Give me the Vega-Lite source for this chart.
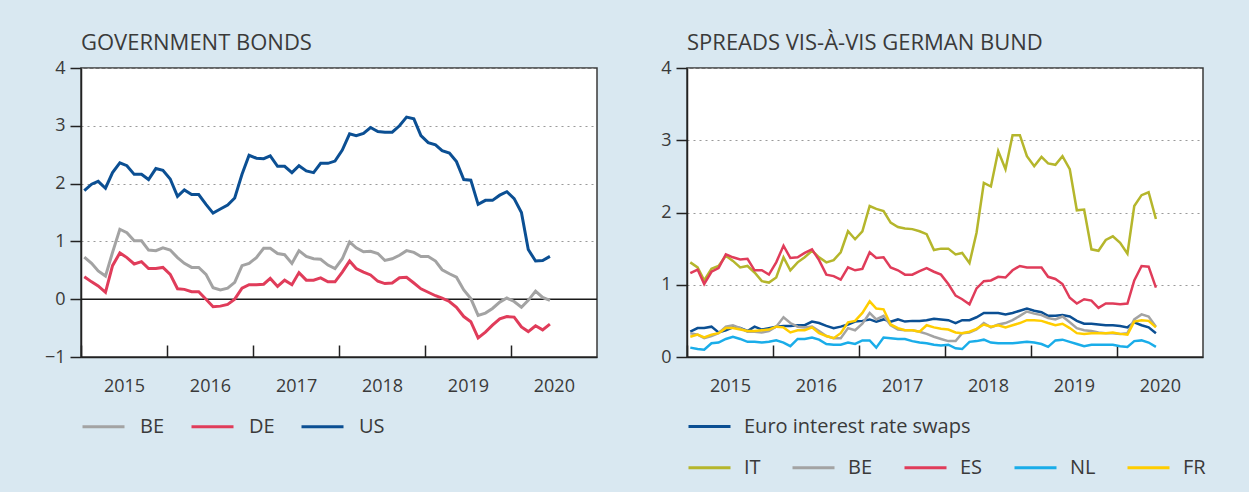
{
"$schema": "https://vega.github.io/schema/vega-lite/v6.json",
"background": "#d9e8f1",
"padding": {"left": 43, "top": 31, "right": 50, "bottom": 13},
"spacing": 60,
"config": {
  "font": "Open Sans",
  "view": {"stroke": "#3a3a3a", "strokeWidth": 1.5, "fill": "white"},
  "axis": {"labelFont": "Open Sans", "labelFontSize": 18, "labelColor": "#3a3a3a", "domainColor": "#222222", "domainWidth": 1.5, "tickColor": "#222222", "tickWidth": 1.5},
  "legend": {"labelFont": "Open Sans", "labelFontSize": 20, "labelColor": "#3a3a3a", "labelLimit": 400},
  "title": {"font": "Open Sans", "fontSize": 22, "fontWeight": "normal", "color": "#3a3a3a", "anchor": "start", "frame": "group", "offset": 0}
},
"datasets": {
"bonds": [
{"d":"2015-01-15","s":"BE","v":0.73},{"d":"2015-02-15","s":"BE","v":0.62},{"d":"2015-03-15","s":"BE","v":0.49},{"d":"2015-04-15","s":"BE","v":0.40},{"d":"2015-05-15","s":"BE","v":0.81},{"d":"2015-06-15","s":"BE","v":1.21},{"d":"2015-07-15","s":"BE","v":1.15},{"d":"2015-08-15","s":"BE","v":1.01},{"d":"2015-09-15","s":"BE","v":1.01},{"d":"2015-10-15","s":"BE","v":0.85},{"d":"2015-11-15","s":"BE","v":0.84},{"d":"2015-12-15","s":"BE","v":0.89},
{"d":"2016-01-15","s":"BE","v":0.85},{"d":"2016-02-15","s":"BE","v":0.72},{"d":"2016-03-15","s":"BE","v":0.62},{"d":"2016-04-15","s":"BE","v":0.55},{"d":"2016-05-15","s":"BE","v":0.55},{"d":"2016-06-15","s":"BE","v":0.43},{"d":"2016-07-15","s":"BE","v":0.20},{"d":"2016-08-15","s":"BE","v":0.16},{"d":"2016-09-15","s":"BE","v":0.19},{"d":"2016-10-15","s":"BE","v":0.29},{"d":"2016-11-15","s":"BE","v":0.58},{"d":"2016-12-15","s":"BE","v":0.62},
{"d":"2017-01-15","s":"BE","v":0.72},{"d":"2017-02-15","s":"BE","v":0.88},{"d":"2017-03-15","s":"BE","v":0.88},{"d":"2017-04-15","s":"BE","v":0.79},{"d":"2017-05-15","s":"BE","v":0.77},{"d":"2017-06-15","s":"BE","v":0.62},{"d":"2017-07-15","s":"BE","v":0.84},{"d":"2017-08-15","s":"BE","v":0.74},{"d":"2017-09-15","s":"BE","v":0.70},{"d":"2017-10-15","s":"BE","v":0.69},{"d":"2017-11-15","s":"BE","v":0.59},{"d":"2017-12-15","s":"BE","v":0.53},
{"d":"2018-01-15","s":"BE","v":0.70},{"d":"2018-02-15","s":"BE","v":0.99},{"d":"2018-03-15","s":"BE","v":0.89},{"d":"2018-04-15","s":"BE","v":0.82},{"d":"2018-05-15","s":"BE","v":0.83},{"d":"2018-06-15","s":"BE","v":0.79},{"d":"2018-07-15","s":"BE","v":0.67},{"d":"2018-08-15","s":"BE","v":0.70},{"d":"2018-09-15","s":"BE","v":0.76},{"d":"2018-10-15","s":"BE","v":0.84},{"d":"2018-11-15","s":"BE","v":0.81},{"d":"2018-12-15","s":"BE","v":0.74},
{"d":"2019-01-15","s":"BE","v":0.74},{"d":"2019-02-15","s":"BE","v":0.66},{"d":"2019-03-15","s":"BE","v":0.51},{"d":"2019-04-15","s":"BE","v":0.44},{"d":"2019-05-15","s":"BE","v":0.38},{"d":"2019-06-15","s":"BE","v":0.16},{"d":"2019-07-15","s":"BE","v":0.01},{"d":"2019-08-15","s":"BE","v":-0.28},{"d":"2019-09-15","s":"BE","v":-0.24},{"d":"2019-10-15","s":"BE","v":-0.16},{"d":"2019-11-15","s":"BE","v":-0.05},{"d":"2019-12-15","s":"BE","v":0.02},
{"d":"2020-01-15","s":"BE","v":-0.04},{"d":"2020-02-15","s":"BE","v":-0.14},{"d":"2020-03-15","s":"BE","v":-0.02},{"d":"2020-04-15","s":"BE","v":0.14},{"d":"2020-05-15","s":"BE","v":0.03},{"d":"2020-06-15","s":"BE","v":-0.02},
{"d":"2015-01-15","s":"DE","v":0.39},{"d":"2015-02-15","s":"DE","v":0.30},{"d":"2015-03-15","s":"DE","v":0.23},{"d":"2015-04-15","s":"DE","v":0.12},{"d":"2015-05-15","s":"DE","v":0.58},{"d":"2015-06-15","s":"DE","v":0.80},{"d":"2015-07-15","s":"DE","v":0.72},{"d":"2015-08-15","s":"DE","v":0.61},{"d":"2015-09-15","s":"DE","v":0.65},{"d":"2015-10-15","s":"DE","v":0.53},{"d":"2015-11-15","s":"DE","v":0.53},{"d":"2015-12-15","s":"DE","v":0.55},
{"d":"2016-01-15","s":"DE","v":0.43},{"d":"2016-02-15","s":"DE","v":0.18},{"d":"2016-03-15","s":"DE","v":0.17},{"d":"2016-04-15","s":"DE","v":0.13},{"d":"2016-05-15","s":"DE","v":0.13},{"d":"2016-06-15","s":"DE","v":0.00},{"d":"2016-07-15","s":"DE","v":-0.13},{"d":"2016-08-15","s":"DE","v":-0.12},{"d":"2016-09-15","s":"DE","v":-0.09},{"d":"2016-10-15","s":"DE","v":0.00},{"d":"2016-11-15","s":"DE","v":0.19},{"d":"2016-12-15","s":"DE","v":0.25},
{"d":"2017-01-15","s":"DE","v":0.25},{"d":"2017-02-15","s":"DE","v":0.26},{"d":"2017-03-15","s":"DE","v":0.36},{"d":"2017-04-15","s":"DE","v":0.22},{"d":"2017-05-15","s":"DE","v":0.33},{"d":"2017-06-15","s":"DE","v":0.25},{"d":"2017-07-15","s":"DE","v":0.46},{"d":"2017-08-15","s":"DE","v":0.33},{"d":"2017-09-15","s":"DE","v":0.33},{"d":"2017-10-15","s":"DE","v":0.37},{"d":"2017-11-15","s":"DE","v":0.30},{"d":"2017-12-15","s":"DE","v":0.30},
{"d":"2018-01-15","s":"DE","v":0.47},{"d":"2018-02-15","s":"DE","v":0.66},{"d":"2018-03-15","s":"DE","v":0.53},{"d":"2018-04-15","s":"DE","v":0.47},{"d":"2018-05-15","s":"DE","v":0.42},{"d":"2018-06-15","s":"DE","v":0.31},{"d":"2018-07-15","s":"DE","v":0.27},{"d":"2018-08-15","s":"DE","v":0.28},{"d":"2018-09-15","s":"DE","v":0.37},{"d":"2018-10-15","s":"DE","v":0.38},{"d":"2018-11-15","s":"DE","v":0.28},{"d":"2018-12-15","s":"DE","v":0.18},
{"d":"2019-01-15","s":"DE","v":0.12},{"d":"2019-02-15","s":"DE","v":0.06},{"d":"2019-03-15","s":"DE","v":0.02},{"d":"2019-04-15","s":"DE","v":-0.04},{"d":"2019-05-15","s":"DE","v":-0.14},{"d":"2019-06-15","s":"DE","v":-0.30},{"d":"2019-07-15","s":"DE","v":-0.39},{"d":"2019-08-15","s":"DE","v":-0.67},{"d":"2019-09-15","s":"DE","v":-0.57},{"d":"2019-10-15","s":"DE","v":-0.45},{"d":"2019-11-15","s":"DE","v":-0.34},{"d":"2019-12-15","s":"DE","v":-0.30},
{"d":"2020-01-15","s":"DE","v":-0.31},{"d":"2020-02-15","s":"DE","v":-0.48},{"d":"2020-03-15","s":"DE","v":-0.56},{"d":"2020-04-15","s":"DE","v":-0.46},{"d":"2020-05-15","s":"DE","v":-0.53},{"d":"2020-06-15","s":"DE","v":-0.43},
{"d":"2015-01-15","s":"US","v":1.88},{"d":"2015-02-15","s":"US","v":1.99},{"d":"2015-03-15","s":"US","v":2.04},{"d":"2015-04-15","s":"US","v":1.92},{"d":"2015-05-15","s":"US","v":2.19},{"d":"2015-06-15","s":"US","v":2.36},{"d":"2015-07-15","s":"US","v":2.31},{"d":"2015-08-15","s":"US","v":2.16},{"d":"2015-09-15","s":"US","v":2.16},{"d":"2015-10-15","s":"US","v":2.07},{"d":"2015-11-15","s":"US","v":2.26},{"d":"2015-12-15","s":"US","v":2.23},
{"d":"2016-01-15","s":"US","v":2.08},{"d":"2016-02-15","s":"US","v":1.78},{"d":"2016-03-15","s":"US","v":1.89},{"d":"2016-04-15","s":"US","v":1.81},{"d":"2016-05-15","s":"US","v":1.81},{"d":"2016-06-15","s":"US","v":1.64},{"d":"2016-07-15","s":"US","v":1.49},{"d":"2016-08-15","s":"US","v":1.56},{"d":"2016-09-15","s":"US","v":1.63},{"d":"2016-10-15","s":"US","v":1.75},{"d":"2016-11-15","s":"US","v":2.16},{"d":"2016-12-15","s":"US","v":2.49},
{"d":"2017-01-15","s":"US","v":2.44},{"d":"2017-02-15","s":"US","v":2.43},{"d":"2017-03-15","s":"US","v":2.48},{"d":"2017-04-15","s":"US","v":2.30},{"d":"2017-05-15","s":"US","v":2.30},{"d":"2017-06-15","s":"US","v":2.19},{"d":"2017-07-15","s":"US","v":2.31},{"d":"2017-08-15","s":"US","v":2.22},{"d":"2017-09-15","s":"US","v":2.19},{"d":"2017-10-15","s":"US","v":2.35},{"d":"2017-11-15","s":"US","v":2.35},{"d":"2017-12-15","s":"US","v":2.39},
{"d":"2018-01-15","s":"US","v":2.58},{"d":"2018-02-15","s":"US","v":2.86},{"d":"2018-03-15","s":"US","v":2.83},{"d":"2018-04-15","s":"US","v":2.87},{"d":"2018-05-15","s":"US","v":2.97},{"d":"2018-06-15","s":"US","v":2.90},{"d":"2018-07-15","s":"US","v":2.89},{"d":"2018-08-15","s":"US","v":2.89},{"d":"2018-09-15","s":"US","v":3.00},{"d":"2018-10-15","s":"US","v":3.15},{"d":"2018-11-15","s":"US","v":3.12},{"d":"2018-12-15","s":"US","v":2.83},
{"d":"2019-01-15","s":"US","v":2.71},{"d":"2019-02-15","s":"US","v":2.67},{"d":"2019-03-15","s":"US","v":2.57},{"d":"2019-04-15","s":"US","v":2.53},{"d":"2019-05-15","s":"US","v":2.38},{"d":"2019-06-15","s":"US","v":2.07},{"d":"2019-07-15","s":"US","v":2.06},{"d":"2019-08-15","s":"US","v":1.64},{"d":"2019-09-15","s":"US","v":1.71},{"d":"2019-10-15","s":"US","v":1.71},{"d":"2019-11-15","s":"US","v":1.80},{"d":"2019-12-15","s":"US","v":1.86},
{"d":"2020-01-15","s":"US","v":1.74},{"d":"2020-02-15","s":"US","v":1.50},{"d":"2020-03-15","s":"US","v":0.86},{"d":"2020-04-15","s":"US","v":0.66},{"d":"2020-05-15","s":"US","v":0.67},{"d":"2020-06-15","s":"US","v":0.74}
],
"swaps": [
{"d":"2015-01-15","s":"Euro interest rate swaps","v":0.35},{"d":"2015-02-15","s":"Euro interest rate swaps","v":0.40},{"d":"2015-03-15","s":"Euro interest rate swaps","v":0.40},{"d":"2015-04-15","s":"Euro interest rate swaps","v":0.42},{"d":"2015-05-15","s":"Euro interest rate swaps","v":0.34},{"d":"2015-06-15","s":"Euro interest rate swaps","v":0.37},{"d":"2015-07-15","s":"Euro interest rate swaps","v":0.41},{"d":"2015-08-15","s":"Euro interest rate swaps","v":0.40},{"d":"2015-09-15","s":"Euro interest rate swaps","v":0.36},{"d":"2015-10-15","s":"Euro interest rate swaps","v":0.42},{"d":"2015-11-15","s":"Euro interest rate swaps","v":0.38},{"d":"2015-12-15","s":"Euro interest rate swaps","v":0.40},
{"d":"2016-01-15","s":"Euro interest rate swaps","v":0.42},{"d":"2016-02-15","s":"Euro interest rate swaps","v":0.43},{"d":"2016-03-15","s":"Euro interest rate swaps","v":0.43},{"d":"2016-04-15","s":"Euro interest rate swaps","v":0.44},{"d":"2016-05-15","s":"Euro interest rate swaps","v":0.44},{"d":"2016-06-15","s":"Euro interest rate swaps","v":0.49},{"d":"2016-07-15","s":"Euro interest rate swaps","v":0.47},{"d":"2016-08-15","s":"Euro interest rate swaps","v":0.43},{"d":"2016-09-15","s":"Euro interest rate swaps","v":0.40},{"d":"2016-10-15","s":"Euro interest rate swaps","v":0.42},{"d":"2016-11-15","s":"Euro interest rate swaps","v":0.45},{"d":"2016-12-15","s":"Euro interest rate swaps","v":0.49},
{"d":"2017-01-15","s":"Euro interest rate swaps","v":0.50},{"d":"2017-02-15","s":"Euro interest rate swaps","v":0.52},{"d":"2017-03-15","s":"Euro interest rate swaps","v":0.49},{"d":"2017-04-15","s":"Euro interest rate swaps","v":0.52},{"d":"2017-05-15","s":"Euro interest rate swaps","v":0.49},{"d":"2017-06-15","s":"Euro interest rate swaps","v":0.52},{"d":"2017-07-15","s":"Euro interest rate swaps","v":0.49},{"d":"2017-08-15","s":"Euro interest rate swaps","v":0.50},{"d":"2017-09-15","s":"Euro interest rate swaps","v":0.50},{"d":"2017-10-15","s":"Euro interest rate swaps","v":0.51},{"d":"2017-11-15","s":"Euro interest rate swaps","v":0.53},{"d":"2017-12-15","s":"Euro interest rate swaps","v":0.52},
{"d":"2018-01-15","s":"Euro interest rate swaps","v":0.51},{"d":"2018-02-15","s":"Euro interest rate swaps","v":0.47},{"d":"2018-03-15","s":"Euro interest rate swaps","v":0.51},{"d":"2018-04-15","s":"Euro interest rate swaps","v":0.51},{"d":"2018-05-15","s":"Euro interest rate swaps","v":0.55},{"d":"2018-06-15","s":"Euro interest rate swaps","v":0.61},{"d":"2018-07-15","s":"Euro interest rate swaps","v":0.61},{"d":"2018-08-15","s":"Euro interest rate swaps","v":0.61},{"d":"2018-09-15","s":"Euro interest rate swaps","v":0.59},{"d":"2018-10-15","s":"Euro interest rate swaps","v":0.61},{"d":"2018-11-15","s":"Euro interest rate swaps","v":0.64},{"d":"2018-12-15","s":"Euro interest rate swaps","v":0.67},
{"d":"2019-01-15","s":"Euro interest rate swaps","v":0.64},{"d":"2019-02-15","s":"Euro interest rate swaps","v":0.62},{"d":"2019-03-15","s":"Euro interest rate swaps","v":0.57},{"d":"2019-04-15","s":"Euro interest rate swaps","v":0.57},{"d":"2019-05-15","s":"Euro interest rate swaps","v":0.58},{"d":"2019-06-15","s":"Euro interest rate swaps","v":0.56},{"d":"2019-07-15","s":"Euro interest rate swaps","v":0.50},{"d":"2019-08-15","s":"Euro interest rate swaps","v":0.46},{"d":"2019-09-15","s":"Euro interest rate swaps","v":0.46},{"d":"2019-10-15","s":"Euro interest rate swaps","v":0.45},{"d":"2019-11-15","s":"Euro interest rate swaps","v":0.44},{"d":"2019-12-15","s":"Euro interest rate swaps","v":0.44},
{"d":"2020-01-15","s":"Euro interest rate swaps","v":0.43},{"d":"2020-02-15","s":"Euro interest rate swaps","v":0.41},{"d":"2020-03-15","s":"Euro interest rate swaps","v":0.48},{"d":"2020-04-15","s":"Euro interest rate swaps","v":0.44},{"d":"2020-05-15","s":"Euro interest rate swaps","v":0.41},{"d":"2020-06-15","s":"Euro interest rate swaps","v":0.33}
],
"spreads": [
{"d":"2015-01-15","s":"IT","v":1.31},{"d":"2015-02-15","s":"IT","v":1.24},{"d":"2015-03-15","s":"IT","v":1.06},{"d":"2015-04-15","s":"IT","v":1.22},{"d":"2015-05-15","s":"IT","v":1.26},{"d":"2015-06-15","s":"IT","v":1.40},{"d":"2015-07-15","s":"IT","v":1.33},{"d":"2015-08-15","s":"IT","v":1.24},{"d":"2015-09-15","s":"IT","v":1.26},{"d":"2015-10-15","s":"IT","v":1.17},{"d":"2015-11-15","s":"IT","v":1.05},{"d":"2015-12-15","s":"IT","v":1.03},
{"d":"2016-01-15","s":"IT","v":1.10},{"d":"2016-02-15","s":"IT","v":1.38},{"d":"2016-03-15","s":"IT","v":1.20},{"d":"2016-04-15","s":"IT","v":1.31},{"d":"2016-05-15","s":"IT","v":1.38},{"d":"2016-06-15","s":"IT","v":1.47},{"d":"2016-07-15","s":"IT","v":1.38},{"d":"2016-08-15","s":"IT","v":1.31},{"d":"2016-09-15","s":"IT","v":1.34},{"d":"2016-10-15","s":"IT","v":1.45},{"d":"2016-11-15","s":"IT","v":1.74},{"d":"2016-12-15","s":"IT","v":1.63},
{"d":"2017-01-15","s":"IT","v":1.74},{"d":"2017-02-15","s":"IT","v":2.09},{"d":"2017-03-15","s":"IT","v":2.05},{"d":"2017-04-15","s":"IT","v":2.02},{"d":"2017-05-15","s":"IT","v":1.86},{"d":"2017-06-15","s":"IT","v":1.80},{"d":"2017-07-15","s":"IT","v":1.78},{"d":"2017-08-15","s":"IT","v":1.77},{"d":"2017-09-15","s":"IT","v":1.74},{"d":"2017-10-15","s":"IT","v":1.70},{"d":"2017-11-15","s":"IT","v":1.48},{"d":"2017-12-15","s":"IT","v":1.50},
{"d":"2018-01-15","s":"IT","v":1.50},{"d":"2018-02-15","s":"IT","v":1.42},{"d":"2018-03-15","s":"IT","v":1.44},{"d":"2018-04-15","s":"IT","v":1.30},{"d":"2018-05-15","s":"IT","v":1.72},{"d":"2018-06-15","s":"IT","v":2.41},{"d":"2018-07-15","s":"IT","v":2.36},{"d":"2018-08-15","s":"IT","v":2.85},{"d":"2018-09-15","s":"IT","v":2.60},{"d":"2018-10-15","s":"IT","v":3.07},{"d":"2018-11-15","s":"IT","v":3.07},{"d":"2018-12-15","s":"IT","v":2.78},
{"d":"2019-01-15","s":"IT","v":2.64},{"d":"2019-02-15","s":"IT","v":2.77},{"d":"2019-03-15","s":"IT","v":2.68},{"d":"2019-04-15","s":"IT","v":2.66},{"d":"2019-05-15","s":"IT","v":2.78},{"d":"2019-06-15","s":"IT","v":2.60},{"d":"2019-07-15","s":"IT","v":2.03},{"d":"2019-08-15","s":"IT","v":2.04},{"d":"2019-09-15","s":"IT","v":1.49},{"d":"2019-10-15","s":"IT","v":1.47},{"d":"2019-11-15","s":"IT","v":1.62},{"d":"2019-12-15","s":"IT","v":1.67},
{"d":"2020-01-15","s":"IT","v":1.58},{"d":"2020-02-15","s":"IT","v":1.43},{"d":"2020-03-15","s":"IT","v":2.09},{"d":"2020-04-15","s":"IT","v":2.24},{"d":"2020-05-15","s":"IT","v":2.28},{"d":"2020-06-15","s":"IT","v":1.91},
{"d":"2015-01-15","s":"BE","v":0.33},{"d":"2015-02-15","s":"BE","v":0.31},{"d":"2015-03-15","s":"BE","v":0.26},{"d":"2015-04-15","s":"BE","v":0.29},{"d":"2015-05-15","s":"BE","v":0.33},{"d":"2015-06-15","s":"BE","v":0.42},{"d":"2015-07-15","s":"BE","v":0.44},{"d":"2015-08-15","s":"BE","v":0.40},{"d":"2015-09-15","s":"BE","v":0.35},{"d":"2015-10-15","s":"BE","v":0.35},{"d":"2015-11-15","s":"BE","v":0.34},{"d":"2015-12-15","s":"BE","v":0.36},
{"d":"2016-01-15","s":"BE","v":0.42},{"d":"2016-02-15","s":"BE","v":0.55},{"d":"2016-03-15","s":"BE","v":0.47},{"d":"2016-04-15","s":"BE","v":0.42},{"d":"2016-05-15","s":"BE","v":0.41},{"d":"2016-06-15","s":"BE","v":0.42},{"d":"2016-07-15","s":"BE","v":0.36},{"d":"2016-08-15","s":"BE","v":0.29},{"d":"2016-09-15","s":"BE","v":0.26},{"d":"2016-10-15","s":"BE","v":0.26},{"d":"2016-11-15","s":"BE","v":0.40},{"d":"2016-12-15","s":"BE","v":0.37},
{"d":"2017-01-15","s":"BE","v":0.46},{"d":"2017-02-15","s":"BE","v":0.61},{"d":"2017-03-15","s":"BE","v":0.52},{"d":"2017-04-15","s":"BE","v":0.57},{"d":"2017-05-15","s":"BE","v":0.44},{"d":"2017-06-15","s":"BE","v":0.38},{"d":"2017-07-15","s":"BE","v":0.37},{"d":"2017-08-15","s":"BE","v":0.37},{"d":"2017-09-15","s":"BE","v":0.35},{"d":"2017-10-15","s":"BE","v":0.32},{"d":"2017-11-15","s":"BE","v":0.28},{"d":"2017-12-15","s":"BE","v":0.25},
{"d":"2018-01-15","s":"BE","v":0.22},{"d":"2018-02-15","s":"BE","v":0.22},{"d":"2018-03-15","s":"BE","v":0.33},{"d":"2018-04-15","s":"BE","v":0.34},{"d":"2018-05-15","s":"BE","v":0.38},{"d":"2018-06-15","s":"BE","v":0.47},{"d":"2018-07-15","s":"BE","v":0.41},{"d":"2018-08-15","s":"BE","v":0.45},{"d":"2018-09-15","s":"BE","v":0.47},{"d":"2018-10-15","s":"BE","v":0.51},{"d":"2018-11-15","s":"BE","v":0.57},{"d":"2018-12-15","s":"BE","v":0.63},
{"d":"2019-01-15","s":"BE","v":0.60},{"d":"2019-02-15","s":"BE","v":0.58},{"d":"2019-03-15","s":"BE","v":0.54},{"d":"2019-04-15","s":"BE","v":0.52},{"d":"2019-05-15","s":"BE","v":0.56},{"d":"2019-06-15","s":"BE","v":0.48},{"d":"2019-07-15","s":"BE","v":0.40},{"d":"2019-08-15","s":"BE","v":0.37},{"d":"2019-09-15","s":"BE","v":0.36},{"d":"2019-10-15","s":"BE","v":0.34},{"d":"2019-11-15","s":"BE","v":0.33},{"d":"2019-12-15","s":"BE","v":0.33},
{"d":"2020-01-15","s":"BE","v":0.32},{"d":"2020-02-15","s":"BE","v":0.33},{"d":"2020-03-15","s":"BE","v":0.52},{"d":"2020-04-15","s":"BE","v":0.59},{"d":"2020-05-15","s":"BE","v":0.56},{"d":"2020-06-15","s":"BE","v":0.42},
{"d":"2015-01-15","s":"ES","v":1.16},{"d":"2015-02-15","s":"ES","v":1.21},{"d":"2015-03-15","s":"ES","v":1.01},{"d":"2015-04-15","s":"ES","v":1.18},{"d":"2015-05-15","s":"ES","v":1.23},{"d":"2015-06-15","s":"ES","v":1.42},{"d":"2015-07-15","s":"ES","v":1.38},{"d":"2015-08-15","s":"ES","v":1.35},{"d":"2015-09-15","s":"ES","v":1.36},{"d":"2015-10-15","s":"ES","v":1.20},{"d":"2015-11-15","s":"ES","v":1.20},{"d":"2015-12-15","s":"ES","v":1.14},
{"d":"2016-01-15","s":"ES","v":1.31},{"d":"2016-02-15","s":"ES","v":1.54},{"d":"2016-03-15","s":"ES","v":1.37},{"d":"2016-04-15","s":"ES","v":1.38},{"d":"2016-05-15","s":"ES","v":1.44},{"d":"2016-06-15","s":"ES","v":1.49},{"d":"2016-07-15","s":"ES","v":1.34},{"d":"2016-08-15","s":"ES","v":1.14},{"d":"2016-09-15","s":"ES","v":1.12},{"d":"2016-10-15","s":"ES","v":1.07},{"d":"2016-11-15","s":"ES","v":1.24},{"d":"2016-12-15","s":"ES","v":1.20},
{"d":"2017-01-15","s":"ES","v":1.22},{"d":"2017-02-15","s":"ES","v":1.45},{"d":"2017-03-15","s":"ES","v":1.37},{"d":"2017-04-15","s":"ES","v":1.38},{"d":"2017-05-15","s":"ES","v":1.24},{"d":"2017-06-15","s":"ES","v":1.20},{"d":"2017-07-15","s":"ES","v":1.14},{"d":"2017-08-15","s":"ES","v":1.14},{"d":"2017-09-15","s":"ES","v":1.19},{"d":"2017-10-15","s":"ES","v":1.23},{"d":"2017-11-15","s":"ES","v":1.18},{"d":"2017-12-15","s":"ES","v":1.14},
{"d":"2018-01-15","s":"ES","v":1.01},{"d":"2018-02-15","s":"ES","v":0.85},{"d":"2018-03-15","s":"ES","v":0.80},{"d":"2018-04-15","s":"ES","v":0.73},{"d":"2018-05-15","s":"ES","v":0.95},{"d":"2018-06-15","s":"ES","v":1.05},{"d":"2018-07-15","s":"ES","v":1.06},{"d":"2018-08-15","s":"ES","v":1.11},{"d":"2018-09-15","s":"ES","v":1.10},{"d":"2018-10-15","s":"ES","v":1.20},{"d":"2018-11-15","s":"ES","v":1.26},{"d":"2018-12-15","s":"ES","v":1.24},
{"d":"2019-01-15","s":"ES","v":1.24},{"d":"2019-02-15","s":"ES","v":1.24},{"d":"2019-03-15","s":"ES","v":1.11},{"d":"2019-04-15","s":"ES","v":1.08},{"d":"2019-05-15","s":"ES","v":1.01},{"d":"2019-06-15","s":"ES","v":0.82},{"d":"2019-07-15","s":"ES","v":0.74},{"d":"2019-08-15","s":"ES","v":0.80},{"d":"2019-09-15","s":"ES","v":0.78},{"d":"2019-10-15","s":"ES","v":0.68},{"d":"2019-11-15","s":"ES","v":0.74},{"d":"2019-12-15","s":"ES","v":0.74},
{"d":"2020-01-15","s":"ES","v":0.73},{"d":"2020-02-15","s":"ES","v":0.74},{"d":"2020-03-15","s":"ES","v":1.06},{"d":"2020-04-15","s":"ES","v":1.26},{"d":"2020-05-15","s":"ES","v":1.25},{"d":"2020-06-15","s":"ES","v":0.96},
{"d":"2015-01-15","s":"NL","v":0.13},{"d":"2015-02-15","s":"NL","v":0.11},{"d":"2015-03-15","s":"NL","v":0.10},{"d":"2015-04-15","s":"NL","v":0.19},{"d":"2015-05-15","s":"NL","v":0.20},{"d":"2015-06-15","s":"NL","v":0.25},{"d":"2015-07-15","s":"NL","v":0.28},{"d":"2015-08-15","s":"NL","v":0.25},{"d":"2015-09-15","s":"NL","v":0.21},{"d":"2015-10-15","s":"NL","v":0.21},{"d":"2015-11-15","s":"NL","v":0.20},{"d":"2015-12-15","s":"NL","v":0.21},
{"d":"2016-01-15","s":"NL","v":0.23},{"d":"2016-02-15","s":"NL","v":0.20},{"d":"2016-03-15","s":"NL","v":0.15},{"d":"2016-04-15","s":"NL","v":0.25},{"d":"2016-05-15","s":"NL","v":0.25},{"d":"2016-06-15","s":"NL","v":0.27},{"d":"2016-07-15","s":"NL","v":0.24},{"d":"2016-08-15","s":"NL","v":0.18},{"d":"2016-09-15","s":"NL","v":0.17},{"d":"2016-10-15","s":"NL","v":0.17},{"d":"2016-11-15","s":"NL","v":0.20},{"d":"2016-12-15","s":"NL","v":0.18},
{"d":"2017-01-15","s":"NL","v":0.23},{"d":"2017-02-15","s":"NL","v":0.23},{"d":"2017-03-15","s":"NL","v":0.13},{"d":"2017-04-15","s":"NL","v":0.27},{"d":"2017-05-15","s":"NL","v":0.26},{"d":"2017-06-15","s":"NL","v":0.25},{"d":"2017-07-15","s":"NL","v":0.25},{"d":"2017-08-15","s":"NL","v":0.22},{"d":"2017-09-15","s":"NL","v":0.20},{"d":"2017-10-15","s":"NL","v":0.19},{"d":"2017-11-15","s":"NL","v":0.17},{"d":"2017-12-15","s":"NL","v":0.16},
{"d":"2018-01-15","s":"NL","v":0.17},{"d":"2018-02-15","s":"NL","v":0.12},{"d":"2018-03-15","s":"NL","v":0.11},{"d":"2018-04-15","s":"NL","v":0.21},{"d":"2018-05-15","s":"NL","v":0.22},{"d":"2018-06-15","s":"NL","v":0.24},{"d":"2018-07-15","s":"NL","v":0.20},{"d":"2018-08-15","s":"NL","v":0.19},{"d":"2018-09-15","s":"NL","v":0.19},{"d":"2018-10-15","s":"NL","v":0.19},{"d":"2018-11-15","s":"NL","v":0.20},{"d":"2018-12-15","s":"NL","v":0.21},
{"d":"2019-01-15","s":"NL","v":0.20},{"d":"2019-02-15","s":"NL","v":0.18},{"d":"2019-03-15","s":"NL","v":0.14},{"d":"2019-04-15","s":"NL","v":0.23},{"d":"2019-05-15","s":"NL","v":0.24},{"d":"2019-06-15","s":"NL","v":0.21},{"d":"2019-07-15","s":"NL","v":0.18},{"d":"2019-08-15","s":"NL","v":0.15},{"d":"2019-09-15","s":"NL","v":0.17},{"d":"2019-10-15","s":"NL","v":0.17},{"d":"2019-11-15","s":"NL","v":0.17},{"d":"2019-12-15","s":"NL","v":0.17},
{"d":"2020-01-15","s":"NL","v":0.15},{"d":"2020-02-15","s":"NL","v":0.14},{"d":"2020-03-15","s":"NL","v":0.22},{"d":"2020-04-15","s":"NL","v":0.23},{"d":"2020-05-15","s":"NL","v":0.20},{"d":"2020-06-15","s":"NL","v":0.14},
{"d":"2015-01-15","s":"FR","v":0.28},{"d":"2015-02-15","s":"FR","v":0.31},{"d":"2015-03-15","s":"FR","v":0.27},{"d":"2015-04-15","s":"FR","v":0.31},{"d":"2015-05-15","s":"FR","v":0.33},{"d":"2015-06-15","s":"FR","v":0.40},{"d":"2015-07-15","s":"FR","v":0.40},{"d":"2015-08-15","s":"FR","v":0.38},{"d":"2015-09-15","s":"FR","v":0.36},{"d":"2015-10-15","s":"FR","v":0.36},{"d":"2015-11-15","s":"FR","v":0.37},{"d":"2015-12-15","s":"FR","v":0.38},
{"d":"2016-01-15","s":"FR","v":0.42},{"d":"2016-02-15","s":"FR","v":0.41},{"d":"2016-03-15","s":"FR","v":0.34},{"d":"2016-04-15","s":"FR","v":0.37},{"d":"2016-05-15","s":"FR","v":0.37},{"d":"2016-06-15","s":"FR","v":0.41},{"d":"2016-07-15","s":"FR","v":0.33},{"d":"2016-08-15","s":"FR","v":0.29},{"d":"2016-09-15","s":"FR","v":0.26},{"d":"2016-10-15","s":"FR","v":0.33},{"d":"2016-11-15","s":"FR","v":0.48},{"d":"2016-12-15","s":"FR","v":0.50},
{"d":"2017-01-15","s":"FR","v":0.61},{"d":"2017-02-15","s":"FR","v":0.77},{"d":"2017-03-15","s":"FR","v":0.67},{"d":"2017-04-15","s":"FR","v":0.66},{"d":"2017-05-15","s":"FR","v":0.45},{"d":"2017-06-15","s":"FR","v":0.40},{"d":"2017-07-15","s":"FR","v":0.37},{"d":"2017-08-15","s":"FR","v":0.37},{"d":"2017-09-15","s":"FR","v":0.35},{"d":"2017-10-15","s":"FR","v":0.44},{"d":"2017-11-15","s":"FR","v":0.41},{"d":"2017-12-15","s":"FR","v":0.39},
{"d":"2018-01-15","s":"FR","v":0.38},{"d":"2018-02-15","s":"FR","v":0.34},{"d":"2018-03-15","s":"FR","v":0.33},{"d":"2018-04-15","s":"FR","v":0.35},{"d":"2018-05-15","s":"FR","v":0.39},{"d":"2018-06-15","s":"FR","v":0.45},{"d":"2018-07-15","s":"FR","v":0.42},{"d":"2018-08-15","s":"FR","v":0.44},{"d":"2018-09-15","s":"FR","v":0.41},{"d":"2018-10-15","s":"FR","v":0.44},{"d":"2018-11-15","s":"FR","v":0.47},{"d":"2018-12-15","s":"FR","v":0.51},
{"d":"2019-01-15","s":"FR","v":0.51},{"d":"2019-02-15","s":"FR","v":0.50},{"d":"2019-03-15","s":"FR","v":0.47},{"d":"2019-04-15","s":"FR","v":0.44},{"d":"2019-05-15","s":"FR","v":0.46},{"d":"2019-06-15","s":"FR","v":0.40},{"d":"2019-07-15","s":"FR","v":0.33},{"d":"2019-08-15","s":"FR","v":0.32},{"d":"2019-09-15","s":"FR","v":0.33},{"d":"2019-10-15","s":"FR","v":0.33},{"d":"2019-11-15","s":"FR","v":0.33},{"d":"2019-12-15","s":"FR","v":0.34},
{"d":"2020-01-15","s":"FR","v":0.32},{"d":"2020-02-15","s":"FR","v":0.31},{"d":"2020-03-15","s":"FR","v":0.49},{"d":"2020-04-15","s":"FR","v":0.51},{"d":"2020-05-15","s":"FR","v":0.50},{"d":"2020-06-15","s":"FR","v":0.41}
]
},
"hconcat": [
{
  "width": 516, "height": 289,
  "title": {"text": "GOVERNMENT BONDS"},
  "layer": [
    {"data": {"values": [{}]}, "mark": {"type": "rule", "color": "#1a1a1a", "strokeWidth": 1.5}, "encoding": {"y": {"datum": 0, "type": "quantitative"}}},
    {"data": {"name": "bonds"}, "mark": {"type": "line", "strokeWidth": 3},
     "encoding": {
       "x": {"field": "d", "type": "temporal", "scale": {"domain": [{"year": 2015, "month": 1, "date": 1}, {"year": 2021, "month": 1, "date": 1}]},
             "axis": {"title": null, "values": [{"year": 2015, "month": 1, "date": 1}, {"year": 2016, "month": 1, "date": 1}, {"year": 2017, "month": 1, "date": 1}, {"year": 2018, "month": 1, "date": 1}, {"year": 2019, "month": 1, "date": 1}, {"year": 2020, "month": 1, "date": 1}],
                      "format": "%Y", "labelOffset": 43, "tickSize": -12, "labelPadding": 32, "labelFlush": false, "labelOverlap": false, "grid": false}},
       "y": {"field": "v", "type": "quantitative", "scale": {"domain": [-1, 4], "nice": false, "zero": false},
             "axis": {"title": null, "values": [-1, 0, 1, 2, 3, 4], "format": "d", "tickSize": 11, "labelPadding": 5, "grid": true, "gridDash": [2, 4], "gridColor": "#9a9a9a", "gridWidth": 1.2}},
       "color": {"field": "s", "type": "nominal", "scale": {"domain": ["BE", "DE", "US"], "range": ["#a3a3a3", "#e03c5a", "#0b4f93"]},
                 "legend": {"title": null, "orient": "none", "legendX": 0, "legendY": 336, "direction": "horizontal", "symbolType": "stroke", "symbolSize": 1764, "symbolStrokeWidth": 3, "labelOffset": 14, "columnPadding": 20, "padding": 0}}
     }}
  ]
},
{
  "width": 516, "height": 289,
  "title": {"text": "SPREADS VIS-À-VIS GERMAN BUND"},
  "layer": [
    {"data": {"name": "swaps"}, "mark": {"type": "line", "strokeWidth": 2.5},
     "encoding": {
       "x": {"field": "d", "type": "temporal", "scale": {"domain": [{"year": 2015, "month": 1, "date": 1}, {"year": 2021, "month": 1, "date": 1}]},
             "axis": {"title": null, "values": [{"year": 2015, "month": 1, "date": 1}, {"year": 2016, "month": 1, "date": 1}, {"year": 2017, "month": 1, "date": 1}, {"year": 2018, "month": 1, "date": 1}, {"year": 2019, "month": 1, "date": 1}, {"year": 2020, "month": 1, "date": 1}],
                      "format": "%Y", "labelOffset": 43, "tickSize": -12, "labelPadding": 32, "labelFlush": false, "labelOverlap": false, "grid": false}},
       "y": {"field": "v", "type": "quantitative", "scale": {"domain": [0, 4], "nice": false},
             "axis": {"title": null, "values": [0, 1, 2, 3, 4], "format": "d", "tickSize": 11, "labelPadding": 5, "grid": true, "gridDash": [2, 4], "gridColor": "#9a9a9a", "gridWidth": 1.2}},
       "color": {"field": "s", "type": "nominal", "scale": {"domain": ["Euro interest rate swaps"], "range": ["#0b4f93"]},
                 "legend": {"title": null, "orient": "none", "legendX": 0, "legendY": 336, "direction": "horizontal", "symbolType": "stroke", "symbolSize": 1764, "symbolStrokeWidth": 3, "labelOffset": 12, "padding": 0}}
     }},
    {"data": {"name": "spreads"}, "mark": {"type": "line", "strokeWidth": 2.5},
     "encoding": {
       "x": {"field": "d", "type": "temporal"},
       "y": {"field": "v", "type": "quantitative"},
       "color": {"field": "s", "type": "nominal", "scale": {"domain": ["IT", "BE", "ES", "NL", "FR"], "range": ["#b5b62c", "#a3a3a3", "#e03c5a", "#1aade9", "#ffcd00"]},
                 "legend": {"title": null, "orient": "none", "legendX": 0, "legendY": 377, "direction": "horizontal", "symbolType": "stroke", "symbolSize": 1764, "symbolStrokeWidth": 3, "labelOffset": 12, "columnPadding": 25, "padding": 0}}
     }}
  ],
  "resolve": {"scale": {"color": "independent"}}
}
]
}
